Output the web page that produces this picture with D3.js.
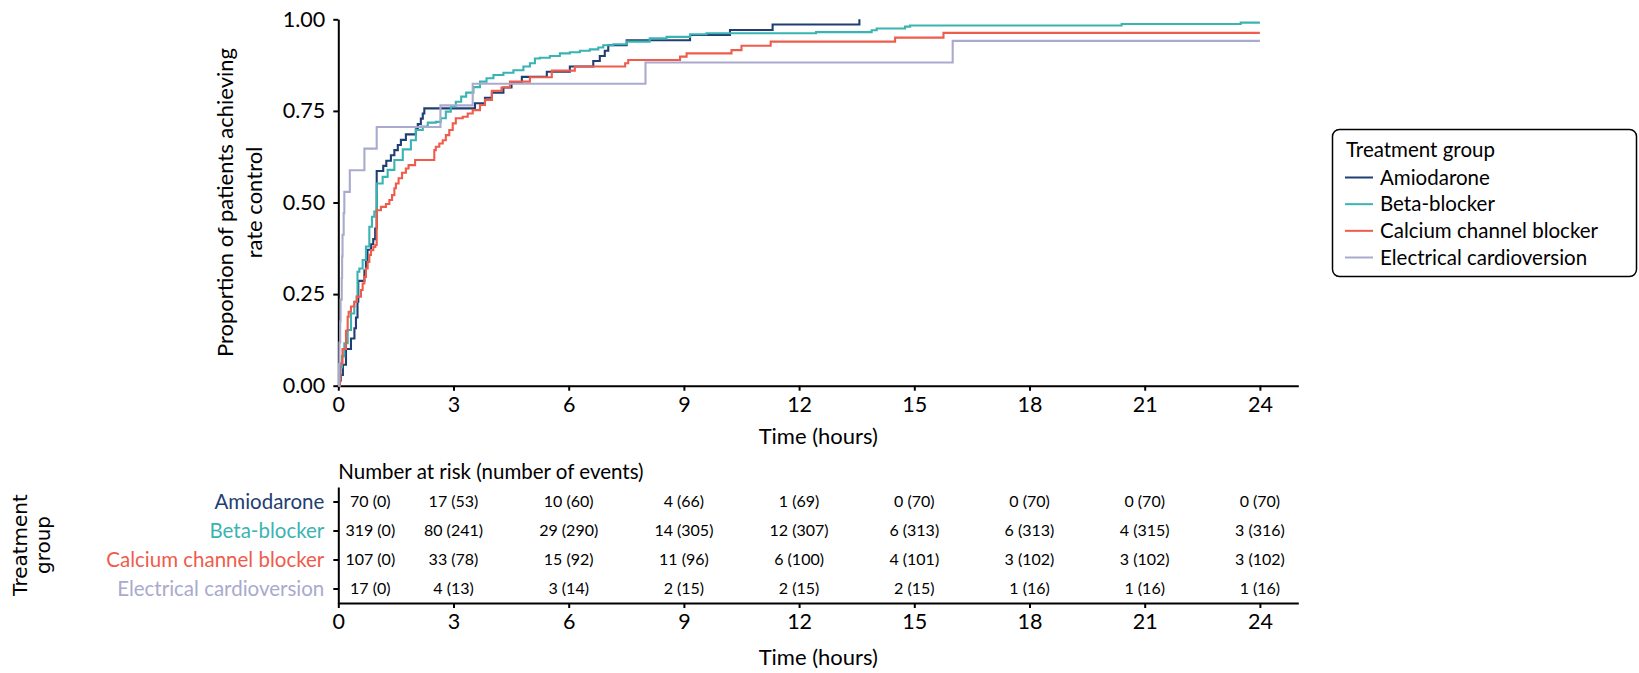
<!DOCTYPE html>
<html>
<head>
<meta charset="utf-8">
<script src="https://cdn.jsdelivr.net/npm/d3@7/dist/d3.min.js"></script>
<style>
  html, body { margin: 0; padding: 0; background: #fff; }
  svg { display: block; font-family: Lato, "Noto Sans", sans-serif; }
</style>
</head>
<body>
<svg id="chart" width="1639" height="673"></svg>
<script>
// ---------------- data ----------------
const groups = ["Amiodarone", "Beta-blocker", "Calcium channel blocker", "Electrical cardioversion"];

const amiodaroneTime = [0, 0.03, 0.07, 0.12, 0.2, 0.33, 0.42, 0.46, 0.5, 0.52, 0.68, 0.72, 0.76, 0.85, 0.91, 0.96, 1.0, 1.17, 1.25, 1.37, 1.46, 1.55, 1.63, 1.76, 2.02, 2.07, 2.15, 2.2, 2.24, 3.56, 3.82, 4.0, 4.3, 4.51, 4.78, 5.43, 6.03, 6.64, 6.81, 6.94, 7.03, 7.51, 9.16, 10.2, 11.31, 13.57];
const amiodaroneProp = [0, 0.014, 0.029, 0.057, 0.1, 0.129, 0.157, 0.186, 0.229, 0.286, 0.314, 0.343, 0.371, 0.386, 0.4, 0.429, 0.586, 0.6, 0.614, 0.629, 0.643, 0.657, 0.671, 0.686, 0.7, 0.714, 0.729, 0.743, 0.757, 0.771, 0.786, 0.8, 0.814, 0.829, 0.843, 0.857, 0.871, 0.886, 0.9, 0.914, 0.929, 0.943, 0.957, 0.971, 0.986, 1.0];

const betaTime = [0, 0.027, 0.06, 0.096, 0.157, 0.244, 0.33, 0.417, 0.48, 0.5, 0.548, 0.634, 0.72, 0.808, 0.877, 0.938, 1.0, 1.155, 1.285, 1.46, 1.68, 1.89, 2.02, 2.2, 2.33, 2.54, 2.67, 2.8, 2.93, 3.06, 3.2, 3.33, 3.52, 3.69, 3.86, 4.04, 4.3, 4.56, 4.82, 4.99, 5.12, 5.25, 5.51, 5.77, 6.03, 6.29, 6.55, 6.77, 6.9, 7.16, 7.51, 8.11, 8.55, 9.16, 9.59, 12.44, 13.89, 14.02, 14.76, 14.89, 20.4, 23.5, 24];
const betaProp = [0, 0.016, 0.05, 0.08, 0.116, 0.152, 0.197, 0.229, 0.243, 0.311, 0.32, 0.343, 0.38, 0.434, 0.461, 0.475, 0.552, 0.57, 0.589, 0.616, 0.645, 0.67, 0.698, 0.707, 0.718, 0.72, 0.73, 0.748, 0.762, 0.775, 0.789, 0.8, 0.815, 0.83, 0.839, 0.848, 0.854, 0.861, 0.871, 0.88, 0.893, 0.895, 0.9, 0.907, 0.91, 0.914, 0.918, 0.923, 0.929, 0.932, 0.939, 0.948, 0.952, 0.959, 0.962, 0.965, 0.97, 0.975, 0.98, 0.983, 0.987, 0.991, 0.991];

const calciumTime = [0, 0.044, 0.11, 0.2, 0.244, 0.27, 0.33, 0.417, 0.48, 0.59, 0.634, 0.678, 0.72, 0.765, 0.808, 0.85, 0.912, 0.964, 1.0, 1.11, 1.24, 1.33, 1.4, 1.46, 1.5, 1.57, 1.66, 1.76, 1.83, 2.0, 2.5, 2.54, 2.63, 2.72, 2.8, 2.89, 2.98, 3.06, 3.24, 3.37, 3.5, 3.69, 3.82, 4.0, 4.25, 4.47, 4.99, 5.56, 6.16, 7.47, 7.55, 8.9, 9.07, 10.24, 10.5, 11.26, 14.5, 15.76, 24];
const calciumProp = [0, 0.061, 0.1, 0.15, 0.188, 0.202, 0.216, 0.229, 0.243, 0.261, 0.279, 0.297, 0.32, 0.338, 0.357, 0.37, 0.379, 0.384, 0.479, 0.488, 0.496, 0.507, 0.52, 0.539, 0.552, 0.566, 0.581, 0.593, 0.602, 0.616, 0.643, 0.652, 0.661, 0.67, 0.684, 0.698, 0.716, 0.73, 0.734, 0.743, 0.752, 0.766, 0.78, 0.805, 0.814, 0.83, 0.842, 0.86, 0.871, 0.88, 0.889, 0.898, 0.907, 0.916, 0.928, 0.939, 0.95, 0.963, 0.963];

const cardioversionTime = [0, 0.02, 0.03, 0.05, 0.06, 0.09, 0.1, 0.11, 0.14, 0.157, 0.3, 0.68, 1.0, 2.66, 3.5, 8.0, 16.0, 24];
const cardioversionProp = [0, 0.059, 0.118, 0.176, 0.235, 0.294, 0.353, 0.412, 0.471, 0.529, 0.588, 0.647, 0.706, 0.765, 0.824, 0.882, 0.941, 0.941];

const xTicks = [0, 3, 6, 9, 12, 15, 18, 21, 24];
const yTicks = [0, 0.25, 0.5, 0.75, 1.0];

const riskTimes = [0, 3, 6, 9, 12, 15, 18, 21, 24];
const amiodaroneAtRisk = [70, 17, 10, 4, 1, 0, 0, 0, 0];
const amiodaroneEvents = [0, 53, 60, 66, 69, 70, 70, 70, 70];
const betaAtRisk = [319, 80, 29, 14, 12, 6, 6, 4, 3];
const betaEvents = [0, 241, 290, 305, 307, 313, 313, 315, 316];
const calciumAtRisk = [107, 33, 15, 11, 6, 4, 3, 3, 3];
const calciumEvents = [0, 78, 92, 96, 100, 101, 102, 102, 102];
const cardioversionAtRisk = [17, 4, 3, 2, 2, 2, 1, 1, 1];
const cardioversionEvents = [0, 13, 14, 15, 15, 15, 16, 16, 16];

// ---------------- styles ----------------
const colors = ["#1f3e72", "#3ab4b3", "#ef5c4b", "#a9aacd"];

const series = [
  { name: groups[0], t: amiodaroneTime, p: amiodaroneProp, atRisk: amiodaroneAtRisk, events: amiodaroneEvents },
  { name: groups[1], t: betaTime, p: betaProp, atRisk: betaAtRisk, events: betaEvents },
  { name: groups[2], t: calciumTime, p: calciumProp, atRisk: calciumAtRisk, events: calciumEvents },
  { name: groups[3], t: cardioversionTime, p: cardioversionProp, atRisk: cardioversionAtRisk, events: cardioversionEvents }
];
const colorOf = d3.scaleOrdinal().domain(groups).range(colors);

const svg = d3.select("#chart");
const x = d3.scaleLinear().domain([0, 25]).range([338.3, 1298.3]);
const y = d3.scaleLinear().domain([0, 1]).range([385.7, 19.3]);

const tickFont = 21.5;

// ---- main panel axes ----
const gx = svg.append("g").attr("transform", `translate(0,${y(0)})`)
  .call(d3.axisBottom(x).tickValues(xTicks).tickSize(5).tickSizeOuter(0).tickPadding(6).tickFormat(d3.format("d")));
const gy = svg.append("g").attr("transform", `translate(${x(0)},0)`)
  .call(d3.axisLeft(y).tickValues(yTicks).tickSize(5).tickSizeOuter(0).tickPadding(8).tickFormat(d3.format(".2f")));
[gx, gy].forEach(g => {
  g.selectAll("path.domain").attr("stroke", "#000").attr("stroke-width", 2);
  g.selectAll(".tick line").attr("stroke", "#000").attr("stroke-width", 2);
  g.selectAll(".tick text").attr("fill", "#000").style("font-size", tickFont + "px").style("font-family", "Lato");
});

// ---- curves ----
const line = d3.line().x(d => x(d[0])).y(d => y(d[1])).curve(d3.curveStepAfter);
svg.append("g").selectAll("path.km").data(series).join("path")
  .attr("class", "km")
  .attr("fill", "none")
  .attr("stroke", d => colorOf(d.name))
  .attr("stroke-width", 2.1)
  .attr("d", d => line(d.t.map((t, i) => [t, d.p[i]])));

// ---- axis titles ----
svg.append("text").attr("x", (x.range()[0] + x.range()[1]) / 2).attr("y", 444)
  .attr("text-anchor", "middle").style("font-size", "22px").text("Time (hours)");
const yt = svg.append("text").attr("transform", `translate(0,${(y(0) + y(1)) / 2}) rotate(-90)`)
  .attr("text-anchor", "middle").style("font-size", "22px");
yt.append("tspan").attr("x", 0).attr("y", 233).text("Proportion of patients achieving");
yt.append("tspan").attr("x", 0).attr("y", 262).text("rate control");

// ---- legend ----
const lg = svg.append("g");
lg.append("rect").attr("x", 1332.5).attr("y", 129.5).attr("width", 304).attr("height", 147)
  .attr("rx", 7).attr("fill", "#fff").attr("stroke", "#000").attr("stroke-width", 1.5);
lg.append("text").attr("x", 1346).attr("y", 157).style("font-size", "20.5px").text("Treatment group");
const legY = d3.scalePoint().domain(groups).range([177.5, 257.5]);
const li = lg.selectAll("g.item").data(groups).join("g").attr("class", "item")
  .attr("transform", d => `translate(0,${legY(d)})`);
li.append("line").attr("x1", 1345).attr("x2", 1373).attr("y1", 0).attr("y2", 0)
  .attr("stroke", d => colorOf(d)).attr("stroke-width", 2);
li.append("text").attr("x", 1380).attr("y", 7).style("font-size", "20.5px").text(d => d);

// ---- risk table ----
svg.append("text").attr("x", x(0)).attr("y", 479).style("font-size", "20.5px")
  .text("Number at risk (number of events)");

const row = d3.scalePoint().domain(groups).range([487, 603]).padding(0.5);
const tx = svg.append("g").attr("transform", `translate(0,603)`)
  .call(d3.axisBottom(x).tickValues(xTicks).tickSize(5).tickSizeOuter(0).tickPadding(6).tickFormat(d3.format("d")));
const ty = svg.append("g").attr("transform", `translate(${x(0)},0)`)
  .call(d3.axisLeft(row).tickSize(5).tickSizeOuter(0).tickPadding(9));
[tx, ty].forEach(g => {
  g.selectAll("path.domain").attr("stroke", "#000").attr("stroke-width", 2);
  g.selectAll(".tick line").attr("stroke", "#000").attr("stroke-width", 2);
  g.selectAll(".tick text").style("font-family", "Lato");
});
tx.selectAll(".tick text").attr("fill", "#000").style("font-size", tickFont + "px");
ty.selectAll(".tick text").attr("fill", d => colorOf(d)).style("font-size", "20.5px");

const cells = [];
series.forEach(s => riskTimes.forEach((t, i) => cells.push({ g: s.name, t, text: `${s.atRisk[i]} (${s.events[i]})` })));
svg.append("g").selectAll("text").data(cells).join("text")
  .attr("x", d => x(d.t) + (d.t === 0 ? 32 : 0))
  .attr("y", d => row(d.g) + 5.5)
  .attr("text-anchor", "middle")
  .style("font-size", "16px")
  .text(d => d.text);

svg.append("text").attr("x", (x.range()[0] + x.range()[1]) / 2).attr("y", 665)
  .attr("text-anchor", "middle").style("font-size", "22px").text("Time (hours)");

const tg = svg.append("text").attr("transform", `translate(0,${(row.range()[0] + row.range()[1]) / 2}) rotate(-90)`)
  .attr("text-anchor", "middle").style("font-size", "20px").style("font-family", "'DejaVu Sans'");
tg.append("tspan").attr("x", 0).attr("y", 27).text("Treatment");
tg.append("tspan").attr("x", 0).attr("y", 50).text("group");
</script>
</body>
</html>
